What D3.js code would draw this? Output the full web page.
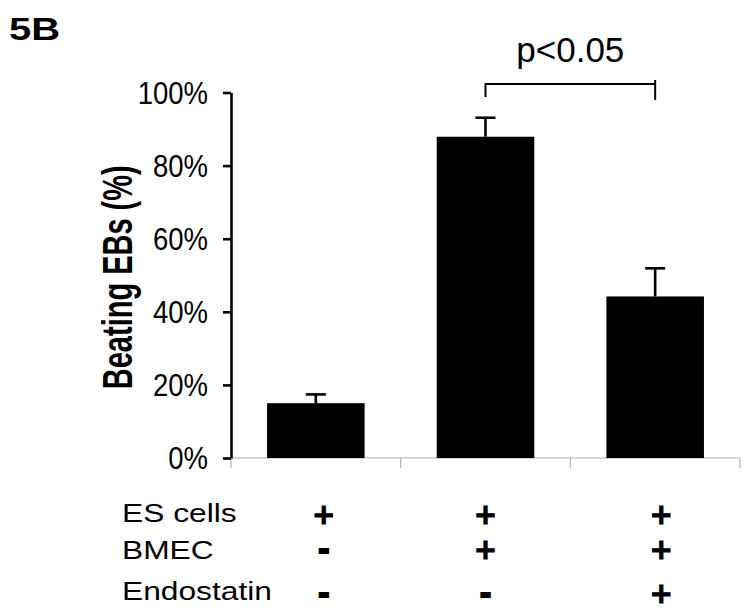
<!DOCTYPE html>
<html>
<head>
<meta charset="utf-8">
<script src="https://cdn.jsdelivr.net/npm/d3@7"></script>
<style>
  html, body { margin: 0; padding: 0; background: #fff; }
  svg { display: block; }
  text { font-family: "Liberation Sans", Arial, sans-serif; fill: #000; }
</style>
</head>
<body>
<div id="chart"></div>
<script>
// ---- data ----
const categories = ["ES cells", "ES cells + BMEC", "ES cells + BMEC + Endostatin"];
const values = [0.150, 0.879, 0.442];
const errors = [0.024, 0.052, 0.077];
const yTicks = [0, 0.2, 0.4, 0.6, 0.8, 1.0];
const rowLabels = ["ES cells", "BMEC", "Endostatin"];
const conditions = [
  ["+", "+", "+"],
  ["-", "+", "+"],
  ["-", "-", "+"]
];
const sigText = "p<0.05";
const panelLabel = "5B";
const yTitle = "Beating EBs (%)";

// ---- layout ----
const W = 750, H = 611;
const svg = d3.select("#chart").append("svg").attr("width", W).attr("height", H);
svg.append("rect").attr("width", W).attr("height", H).attr("fill", "#fff");

const x = d3.scaleBand().domain(categories).range([231, 740]).padding(0);
const y = d3.scaleLinear().domain([0, 1]).range([458, 92.5]);
const bw = x.bandwidth();
const barW = bw * 0.575;
const cx = c => x(c) + bw / 2;

// x axis (gray baseline with boundary ticks)
const xAxisG = svg.append("g").attr("transform", `translate(0,${y(0)})`);
xAxisG.append("line").attr("x1", x.range()[0]).attr("x2", x.range()[1])
  .attr("stroke", "#b0b0b0").attr("stroke-width", 1.2);
const edges = categories.map(c => x(c)).concat([x(categories[categories.length - 1]) + bw]);
xAxisG.selectAll("line.tk").data(edges).join("line").attr("class", "tk")
  .attr("x1", d => d).attr("x2", d => d).attr("y1", 0).attr("y2", 10)
  .attr("stroke", "#b0b0b0").attr("stroke-width", 1.2);

// y axis
const yAxis = d3.axisLeft(y).tickValues(yTicks).tickSize(8).tickSizeOuter(0).tickFormat("");
const yG = svg.append("g").attr("transform", `translate(231,0)`).call(yAxis);
yG.select(".domain").attr("stroke", "#000").attr("stroke-width", 2.6);
yG.selectAll(".tick line").attr("stroke", "#000").attr("stroke-width", 2.6);

// y tick labels (slightly condensed)
svg.append("g").selectAll("g").data(yTicks).join("g")
  .attr("transform", d => `translate(208,${y(d) + 11}) scale(0.86,1)`)
  .append("text").attr("text-anchor", "end").attr("font-size", 32)
  .text(d => d3.format(".0%")(d));

// bars
svg.append("g").selectAll("rect").data(categories).join("rect")
  .attr("x", c => cx(c) - barW / 2)
  .attr("y", (c, i) => y(values[i]))
  .attr("width", barW)
  .attr("height", (c, i) => y(0) - y(values[i]))
  .attr("fill", "#000");

// error bars (upper only)
const eg = svg.append("g").attr("stroke", "#000").attr("stroke-width", 2.6);
categories.forEach((c, i) => {
  const top = y(values[i] + errors[i]);
  eg.append("line").attr("x1", cx(c)).attr("x2", cx(c)).attr("y1", y(values[i])).attr("y2", top);
  eg.append("line").attr("x1", cx(c) - 10).attr("x2", cx(c) + 10).attr("y1", top).attr("y2", top);
});

// significance bracket between bar 2 and bar 3
const bx1 = cx(categories[1]), bx2 = cx(categories[2]);
const by = y(1.0) - 8.5;
const bg = svg.append("g").attr("stroke", "#000").attr("stroke-width", 2).attr("fill", "none");
bg.append("path").attr("d", `M${bx1},${by + 13}V${by}H${bx2}`);
bg.append("line").attr("x1", bx2).attr("x2", bx2).attr("y1", by - 4).attr("y2", by + 16);
svg.append("text").attr("x", (bx1 + bx2) / 2).attr("y", 62)
  .attr("text-anchor", "middle").attr("font-size", 35).text(sigText);

// panel label
svg.append("g").attr("transform", "translate(9,40) scale(1.25,1)")
  .append("text").attr("font-size", 32).attr("font-weight", "bold").text(panelLabel);

// y title (bold, tall letters)
svg.append("text").attr("transform", `translate(132,${(y(0) + y(1)) / 2 + 2}) rotate(-90) scale(1,1.45)`)
  .attr("text-anchor", "middle").attr("font-size", 29).attr("font-weight", "bold").text(yTitle);

// condition rows
const labelBase = [522, 558.5, 600];
const signBase = [523.5, 559, 603];
const signShift = [8, 0, 6];
rowLabels.forEach((lab, r) => {
  svg.append("g").attr("transform", `translate(122,${labelBase[r]}) scale(1.27,1)`)
    .append("text").attr("font-size", 25).text(lab);
  categories.forEach((c, j) => {
    const s = conditions[r][j];
    svg.append("text").attr("x", cx(c) + signShift[j]).attr("y", signBase[r])
      .attr("text-anchor", "middle").attr("font-size", 28).attr("font-weight", "bold")
      .style("font-family", "'DejaVu Sans', sans-serif")
      .attr("stroke", "#000").attr("stroke-width", s === "-" ? 1.8 : 1)
      .attr("stroke-linejoin", "miter")
      .text(s);
  });
});
</script>
</body>
</html>
